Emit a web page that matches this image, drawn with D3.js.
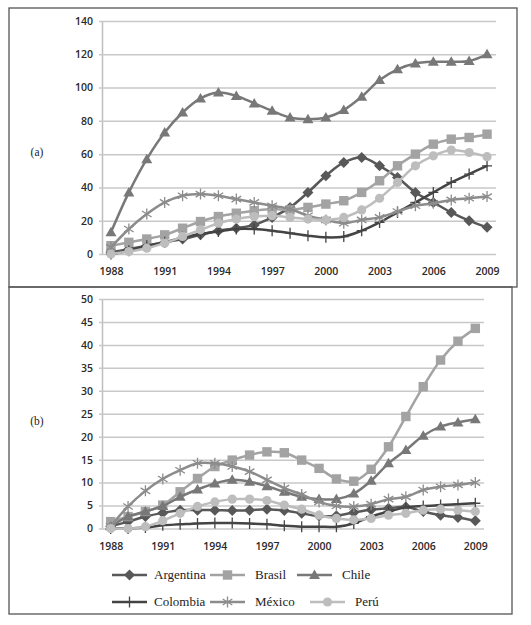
<!DOCTYPE html>
<html>
<head>
<meta charset="utf-8">
<script src="https://cdn.jsdelivr.net/npm/d3@7"></script>
<style>
  body { margin: 0; background: #fff; }
  .tick text { font-family: "Open Sans", sans-serif; font-size: 10.5px; font-weight: 600; fill: #2a2a2a; }
  .legend text { font-family: "Liberation Serif", serif; font-size: 13px; fill: #222; }
  .plabel { font-family: "Liberation Serif", serif; font-size: 11.5px; fill: #222; }
</style>
</head>
<body>
<svg id="chart" width="531" height="625"></svg>
<script>
// years on the x axis
const years = [1988, 1989, 1990, 1991, 1992, 1993, 1994, 1995, 1996, 1997, 1998,
               1999, 2000, 2001, 2002, 2003, 2004, 2005, 2006, 2007, 2008, 2009];
const tickYears = [1988, 1991, 1994, 1997, 2000, 2003, 2006, 2009];
const countries = ["Argentina", "Brasil", "Chile", "Colombia", "México", "Perú"];

// panel (a)
const argentinaA = [1, 3, 5, 7, 9, 11.5, 14, 15.5, 17.5, 22, 28, 37, 47, 55, 58, 53, 46, 37, 31, 25, 20, 16];
const brasilA    = [5, 7, 9, 11.5, 15.5, 19.5, 22.5, 24.5, 26, 27, 26.5, 28, 30, 32, 37, 44, 53, 60, 66, 69, 70, 72];
const chileA     = [13, 37, 57, 73, 85, 93.5, 97, 95, 90.5, 86, 82, 81, 82, 86.5, 94.5, 104.5, 111, 114.5, 115.5, 115.5, 116, 120];
const colombiaA  = [0, 2, 5, 7, 10, 12, 13.5, 15, 15, 14, 12.5, 11, 10, 10.5, 14, 19, 25, 31, 37, 43, 48, 53];
const mexicoA    = [4, 15, 24, 31, 35, 36, 35, 33, 31, 29, 27, 23, 20.5, 18.5, 20.5, 22, 25.5, 29, 30.5, 32.5, 33.5, 34.5];
const peruA      = [0, 1.5, 3.5, 6.5, 10.5, 14.5, 18.5, 21, 22.5, 23, 22, 21, 20.5, 22, 26.5, 33.5, 43, 53, 59, 62.5, 61, 58.5];

// panel (b)
const argentinaB = [0.5, 1.5, 2.6, 3.4, 4, 4, 4, 3.9, 4, 4.2, 3.9, 3.3, 2.7, 2.8, 3.5, 4.1, 4.4, 4.7, 3.7, 2.9, 2.4, 1.7];
const brasilB    = [1.5, 2.6, 3.7, 5.1, 8, 10.9, 13.5, 14.9, 16, 16.7, 16.5, 14.9, 13.1, 10.8, 10.3, 12.9, 17.8, 24.4, 30.9, 36.7, 40.8, 43.6];
const chileB     = [0.5, 2.6, 3.7, 4.9, 6.9, 8.5, 9.8, 10.6, 10.2, 9.2, 8, 6.9, 6.4, 6.4, 7.6, 10.4, 14.2, 17.1, 20.2, 22.2, 23.1, 23.8];
const colombiaB  = [0, 0, 0.2, 0.7, 0.9, 1.1, 1.2, 1.2, 1.1, 0.9, 0.6, 0.4, 0.4, 0.4, 1.1, 2.6, 3.7, 4.6, 4.9, 5.1, 5.3, 5.5];
const mexicoB    = [0.5, 4.8, 8.2, 10.8, 12.7, 14.2, 14.2, 13.5, 12.4, 10.6, 8.8, 7.4, 5.8, 4.9, 4.8, 5.3, 6.4, 6.9, 8.4, 9.1, 9.5, 10];
const peruB      = [0, 0, 0.4, 1.7, 3.3, 4.8, 5.8, 6.4, 6.4, 6.1, 5.1, 4.2, 2.9, 2.2, 1.9, 2.2, 2.9, 3.3, 4, 4.2, 4, 3.7];

const styles = {
  "Argentina": { color: "#585858", marker: "diamond" },
  "Brasil":    { color: "#a3a3a3", marker: "square" },
  "Chile":     { color: "#787878", marker: "triangle" },
  "Colombia":  { color: "#444444", marker: "plus" },
  "México":    { color: "#8c8c8c", marker: "star" },
  "Perú":      { color: "#bdbdbd", marker: "circle" }
};

const svg = d3.select("#chart");

// frames
svg.append("rect").attr("x", 9).attr("y", 8).attr("width", 508).attr("height", 279)
   .attr("fill", "none").attr("stroke", "#555").attr("stroke-width", 1.3);
svg.append("rect").attr("x", 9).attr("y", 287).attr("width", 503).attr("height", 327)
   .attr("fill", "none").attr("stroke", "#555").attr("stroke-width", 1.3);

function marker(g, type, x, y, color) {
  if (type === "diamond") {
    g.append("path").attr("d", `M${x},${y - 5.5}L${x + 5.5},${y}L${x},${y + 5.5}L${x - 5.5},${y}Z`).attr("fill", color);
  } else if (type === "square") {
    g.append("rect").attr("x", x - 4.7).attr("y", y - 4.7).attr("width", 9.4).attr("height", 9.4).attr("fill", color);
  } else if (type === "triangle") {
    g.append("path").attr("d", `M${x},${y - 5.5}L${x + 5.5},${y + 4}L${x - 5.5},${y + 4}Z`).attr("fill", color);
  } else if (type === "circle") {
    g.append("circle").attr("cx", x).attr("cy", y).attr("r", 4.6).attr("fill", color);
  } else if (type === "plus") {
    g.append("path").attr("d", `M${x},${y - 5.5}V${y + 5.5}M${x - 5},${y}H${x + 5}`)
     .attr("stroke", color).attr("stroke-width", 1.3);
  } else if (type === "star") {
    g.append("path").attr("d", `M${x},${y - 5.5}V${y + 5.5}M${x - 4.8},${y - 3}L${x + 4.8},${y + 3}M${x - 4.8},${y + 3}L${x + 4.8},${y - 3}`)
     .attr("stroke", color).attr("stroke-width", 1.3);
  }
}

const panels = [
  { label: "(a)", values: [argentinaA, brasilA, chileA, colombiaA, mexicoA, peruA],
    yMax: 140, yStep: 20, x0: 102, x1: 496, yTop: 21, yBottom: 254, labelY: 152 },
  { label: "(b)", values: [argentinaB, brasilB, chileB, colombiaB, mexicoB, peruB],
    yMax: 50, yStep: 5, x0: 102, x1: 484, yTop: 299, yBottom: 528.5, labelY: 421 }
];

panels.forEach(p => {
  const x = d3.scalePoint().domain(years).range([p.x0, p.x1]).padding(0.5);
  const y = d3.scaleLinear().domain([0, p.yMax]).range([p.yBottom, p.yTop]);

  // y axis + gridlines
  const ya = svg.append("g").attr("transform", `translate(${p.x0},0)`)
    .call(d3.axisLeft(y).tickValues(d3.range(0, p.yMax + 1, p.yStep))
      .tickSize(-(p.x1 - p.x0)).tickSizeOuter(0).tickPadding(9));
  ya.select(".domain").attr("stroke", "#bdbdbd").attr("stroke-width", 1.5);
  ya.selectAll(".tick line").attr("x1", -3).attr("stroke", "#c8c8c8").attr("stroke-width", 1.5);

  // x axis labels
  const xa = svg.append("g").attr("transform", `translate(0,${p.yBottom})`)
    .call(d3.axisBottom(x).tickValues(tickYears).tickSize(0).tickPadding(14));
  xa.select(".domain").remove();

  svg.append("text").attr("class", "plabel").attr("x", 37).attr("y", p.labelY)
     .attr("text-anchor", "middle").attr("dy", "0.35em").text(p.label);

  const line = d3.line().x((d, i) => x(years[i])).y(d => y(d)).curve(d3.curveCatmullRom.alpha(0.5));

  countries.forEach((c, k) => {
    const st = styles[c];
    const g = svg.append("g");
    g.append("path").datum(p.values[k]).attr("d", line)
     .attr("fill", "none").attr("stroke", st.color).attr("stroke-width", 2.5);
    p.values[k].forEach((v, i) => marker(g, st.marker, x(years[i]), y(v), st.color));
  });
});

// legend, two rows of three entries
const legendPos = [[112, 210, 297], [112, 210, 310]];
const rows = [countries.slice(0, 3), countries.slice(3)];
const leg = svg.append("g").attr("class", "legend");
rows.forEach((row, r) => {
  const ly = 575 + r * 27;
  row.forEach((c, j) => {
    const st = styles[c];
    const cx = legendPos[r][j];
    leg.append("line").attr("x1", cx).attr("x2", cx + 35).attr("y1", ly).attr("y2", ly)
       .attr("stroke", st.color).attr("stroke-width", 2.5);
    marker(leg, st.marker, cx + 17.5, ly, st.color);
    leg.append("text").attr("x", cx + (j === 0 ? 42 : 45)).attr("y", ly).attr("dy", "0.32em").text(c);
  });
});
</script>
</body>
</html>
